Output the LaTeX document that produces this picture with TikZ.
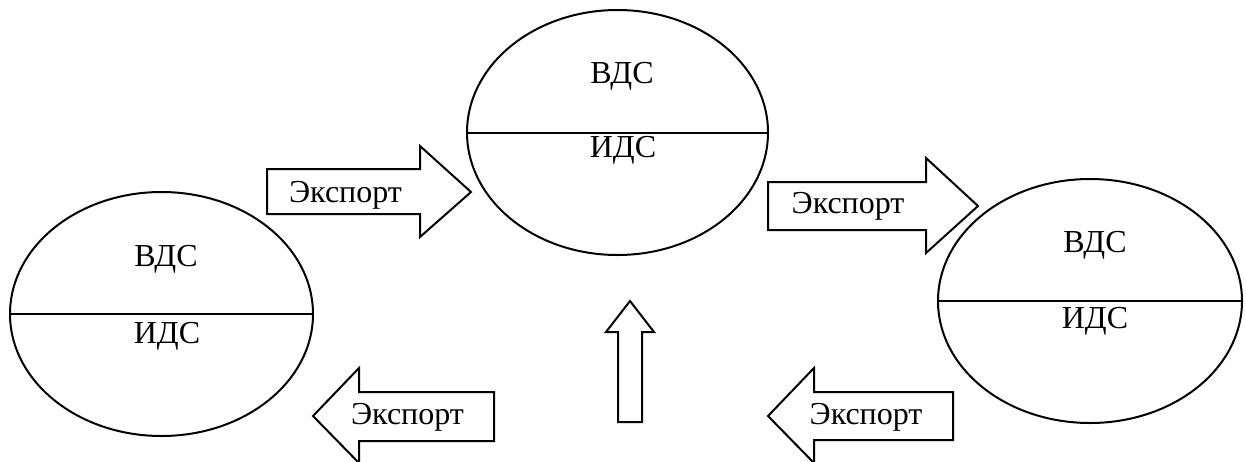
\documentclass[tikz,border=0pt]{standalone}
\usepackage{fontspec}
\setmainfont{Liberation Serif}
\usetikzlibrary{shapes.geometric}
\tikzset{
  sector/.style={draw, ellipse, line width=2pt, inner sep=0pt},
  divider/.style={line width=2pt},
  label/.style={font=\fontsize{32}{38}\selectfont, anchor=base, inner sep=0pt},
  flow/.style={draw, line width=2pt, fill=white}
}
\begin{document}
\begin{tikzpicture}[x=1pt,y=-1pt]
\useasboundingbox (0,0) rectangle (1246,461);

% three economies: upper (ВДС) and lower (ИДС) halves
\node[sector, minimum width=303pt, minimum height=244pt] (left) at (161.5,314) {};
\node[sector, minimum width=301pt, minimum height=245pt] (mid) at (617.5,132.5) {};
\node[sector, minimum width=304pt, minimum height=244pt] (right) at (1090,301) {};
\draw[divider] (left.west) -- (left.east);
\draw[divider] (mid.west) -- (mid.east);
\draw[divider] (right.west) -- (right.east);

\node[label] (leftV) at (166,266.5) {ВДС};
\node[label] (leftI) at (167,343) {ИДС};
\node[label] (midV) at (622,83) {ВДС};
\node[label] (midI) at (623,157) {ИДС};
\node[label] (rightV) at (1095,252) {ВДС};
\node[label] (rightI) at (1095,328) {ИДС};

% block arrows
\draw[flow] (267,169) -- (420,169) -- (420,146) -- (471,192) -- (420,237) -- (420,214) -- (267,214) -- cycle;
\draw[flow] (768,182) -- (926,182) -- (926,158) -- (978,206) -- (926,253) -- (926,230) -- (768,230) -- cycle;
\draw[flow] (494,392) -- (359,392) -- (359,368) -- (313,416) -- (359,463) -- (359,441) -- (494,441) -- cycle;
\draw[flow] (953,392) -- (814,392) -- (814,368) -- (768,416) -- (814,463) -- (814,440) -- (953,440) -- cycle;
\draw[flow] (618,422) -- (618,332) -- (606,332) -- (630,301) -- (654,332) -- (642,332) -- (642,422) -- cycle;

\node[label] (exp1) at (345.5,202) {Экспорт};
\node[label] (exp2) at (848,213) {Экспорт};
\node[label] (exp3) at (407.5,424) {Экспорт};
\node[label] (exp4) at (866,424) {Экспорт};
\end{tikzpicture}
\end{document}
